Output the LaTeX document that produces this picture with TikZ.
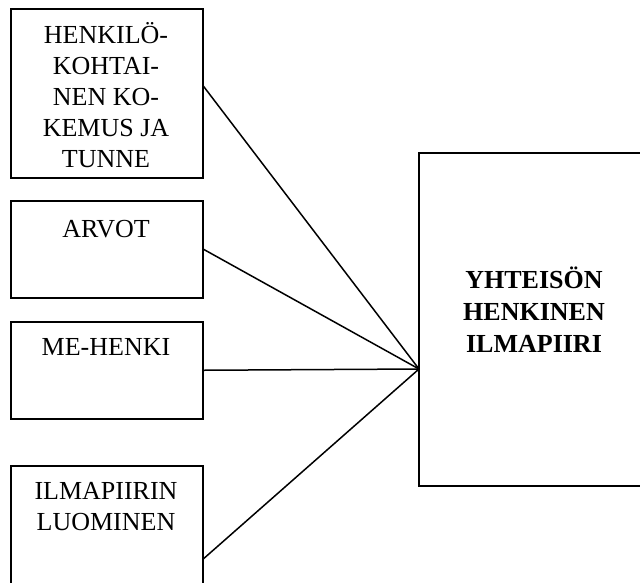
\documentclass[tikz,border=0pt]{standalone}
\usepackage{fontspec}
\setmainfont{Liberation Serif}
\tikzset{
  box/.style={draw, line width=1.5pt, inner sep=0pt, anchor=north west},
  txt/.style={align=center, inner sep=0pt, anchor=base, font=\fontsize{26}{31}\selectfont},
  link/.style={line width=1.5pt}
}
\begin{document}
\begin{tikzpicture}[x=1pt, y=-1pt]
                    \useasboundingbox (0,0) rectangle (640,582);
                    \node [box, minimum width=192pt, minimum height=169pt] (kokemus) at (10,8) {};
                    \node [box, minimum width=192pt, minimum height=97pt] (arvot) at (10,200) {};
                    \node [box, minimum width=192pt, minimum height=97pt] (mehenki) at (10,321) {};
                    \node [box, minimum width=192pt, minimum height=186pt] (luominen) at (10,465) {};
                    \node [box, minimum width=232pt, minimum height=333pt] (ilmapiiri) at (418,152) {};
                    \node [txt] (kokemusT) at (106,167) {HENKILÖ-\\KOHTAI-\\NEN KO-\\KEMUS JA\\TUNNE};
                    \node [txt] (arvotT) at (106,237) {ARVOT};
                    \node [txt] (mehenkiT) at (106,355) {ME-HENKI};
                    \node [txt] (luominenT) at (106,530) {ILMAPIIRIN\\LUOMINEN};
                    \node [txt, font=\fontsize{26}{32}\selectfont\bfseries] (ilmapiiriT) at (534,352) {YHTEISÖN\\HENKINEN\\ILMAPIIRI};
                    \coordinate (hub) at (419,369);
                    \draw [link] ([yshift=7pt]kokemus.east) -- (hub);
                    \draw [link] (arvot.east) -- (hub);
                    \draw [link] (mehenki.east) -- (hub);
                    \draw [link] (luominen.east) -- (hub);
                \end{tikzpicture}
\end{document}
